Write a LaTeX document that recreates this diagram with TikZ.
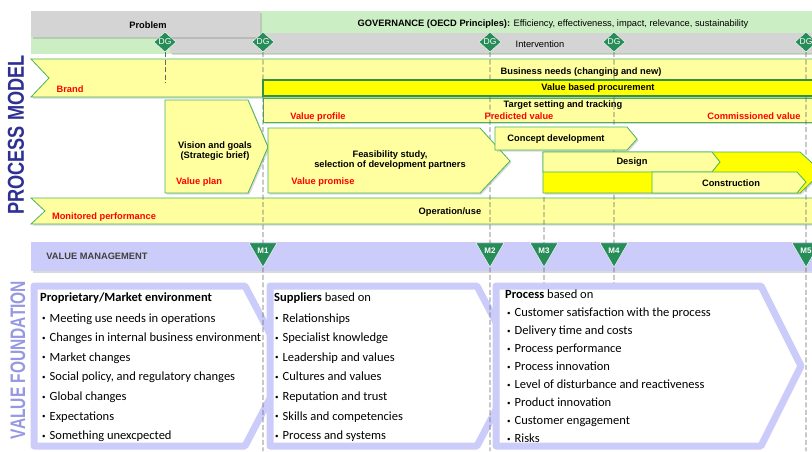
\documentclass[tikz,border=0pt]{standalone}
\usepackage{fontspec}
\setmainfont{Carlito}
\newfontfamily\labelfont{Liberation Sans}
\usetikzlibrary{shapes.geometric,shadows}

\definecolor{govgreen}{RGB}{204,238,196}
\definecolor{bandgray}{RGB}{212,212,212}
\definecolor{paleyellow}{RGB}{255,255,160}
\definecolor{brightyellow}{RGB}{255,255,0}
\definecolor{edgegreen}{RGB}{70,180,90}
\definecolor{markgreen}{RGB}{38,140,88}
\definecolor{lavender}{RGB}{204,204,250}
\definecolor{modelblue}{RGB}{46,49,146}
\definecolor{foundblue}{RGB}{150,152,226}

\newcommand{\vfbullet}{\raisebox{1.3pt}{\scriptsize\textbullet}\hspace{4pt}}

\tikzset{
  modelband/.style={fill=paleyellow, draw=edgegreen, line width=0.8pt},
  hotband/.style={fill=brightyellow, draw=edgegreen, line width=0.8pt},
  softshadow/.style={drop shadow={shadow xshift=1.5pt, shadow yshift=-1.5pt, opacity=0.3}},
  dg/.style={diamond, fill=markgreen, draw=white, line width=0.4pt, minimum width=22pt, minimum height=20pt, inner sep=0pt, text=white, font=\labelfont\fontsize{8.5}{9}\selectfont},
  vm/.style={regular polygon, regular polygon sides=3, shape border rotate=180, fill=markgreen, draw=white, line width=0.4pt, minimum size=32pt, inner sep=0pt, text=white, font=\labelfont\bfseries\fontsize{8}{9}\selectfont},
  gateline/.style={draw=black!60, line width=0.7pt, dash pattern=on 5pt off 2.5pt},
  lbl/.style={font=\labelfont\bfseries\fontsize{9.3}{10.5}\selectfont, inner sep=0pt},
  redlbl/.style={lbl, text=red},
  vfframe/.style={draw=lavender, fill=white, line width=7pt, line join=round},
  vfitem/.style={anchor=base west, inner sep=0pt, font=\fontsize{12.5}{14}\selectfont},
}

\begin{document}
\begin{tikzpicture}[x=1pt, y=-1pt]
  \useasboundingbox (0,0) rectangle (812,451);
  \clip (0,0) rectangle (812,451);

  \fill[govgreen] (31,11) rectangle (812,54);
  \path[fill=bandgray, softshadow] (170,33) rectangle (830,53);
  \path[fill=bandgray, softshadow] (31,11) rectangle (260,37);
  \node[lbl] (problem) at (148,25) {Problem};
  \node[font=\labelfont\fontsize{9.3}{10.5}\selectfont, inner sep=0pt] (governance) at (553,24) {\textbf{GOVERNANCE (OECD Principles):} Efficiency, effectiveness, impact, relevance, sustainability};
  \node[font=\labelfont\fontsize{9.3}{10.5}\selectfont, inner sep=0pt] (intervention) at (540,44) {Intervention};

  \path[modelband, softshadow] (31,59) -- (830,59) -- (830,97) -- (31,97) -- (49,78) -- cycle;
  \path[modelband, softshadow] (263,98) rectangle (830,122);
  \path[modelband, softshadow] (31,198) -- (830,198) -- (830,224) -- (31,224) -- (45,211) -- cycle;
  \node[lbl] (needs) at (581,72) {Business needs (changing and new)};
  \node[redlbl] (brand) at (70,89) {Brand};
  \node[lbl] (target) at (563,105) {Target setting and tracking};
  \node[redlbl] (profile) at (318,117) {Value profile};
  \node[redlbl] (predicted) at (519,116) {Predicted value};
  \node[redlbl] (commissioned) at (754,116) {Commissioned value};
  \node[lbl] (operation) at (450,212) {Operation/use};
  \node[redlbl] (monitored) at (104,217) {Monitored performance};

  \path[fill=lavender, softshadow] (31,242) rectangle (830,271);
  \node[lbl, text=black!75] (vmlabel) at (97,256) {VALUE MANAGEMENT};

  \path[vfframe, softshadow] (34,286) -- (245,286) -- (287,366) -- (245,446) -- (34,446) -- cycle;
  \path[vfframe, softshadow] (270,286) -- (477,286) -- (519,366) -- (477,446) -- (270,446) -- cycle;
  \path[vfframe, softshadow] (496,286) -- (761,286) -- (801,366) -- (761,446) -- (496,446) -- cycle;

  \node[dg] (dg1) at (165,42) {DG};
  \node[dg] (dg2) at (263,42) {DG};
  \node[dg] (dg3) at (490,42) {DG};
  \node[dg] (dg4) at (614,42) {DG};
  \node[dg] (dg5) at (806,42) {DG};
  \node[vm] (m1) at (263,251) {M1};
  \node[vm] (m2) at (490,251) {M2};
  \node[vm] (m3) at (544,251) {M3};
  \node[vm] (m4) at (614,251) {M4};
  \node[vm] (m5) at (806,251) {M5};

  \coordinate (dg1end) at (165,83);
  \coordinate (m1end) at (263,451);
  \coordinate (m2end) at (490,451);
  \coordinate (m3top) at (544,197);
  \coordinate (m3end) at (544,283);
  \coordinate (m4end) at (614,283);
  \coordinate (m5end) at (806,451);

  \draw[gateline] (dg1) -- (dg1end);
  \draw[gateline] (dg2) -- (m1) -- (m1end);
  \draw[gateline] (dg3) -- (m2) -- (m2end);
  \draw[gateline] (m3top) -- (m3) -- (m3end);
  \draw[gateline] (dg4) -- (m4) -- (m4end);
  \draw[gateline] (dg5) -- (m5) -- (m5end);

  \path[hotband, draw=edgegreen!80!black, line width=1.2pt] (263,80) rectangle (830,96);
  \node[lbl] (procurement) at (598,88) {Value based procurement};

  \path[modelband, softshadow] (165,100) -- (248,100) -- (268,147) -- (248,193) -- (165,193) -- cycle;
  \node[lbl, align=center] (vision) at (215,151) {Vision and goals\\(Strategic brief)};
  \node[redlbl] (plan) at (199,182) {Value plan};

  \path[modelband, softshadow] (268,128) -- (480,128) -- (510,161) -- (480,193) -- (268,193) -- cycle;
  \node[lbl, align=center] (feasibility) at (390,160) {Feasibility study,\\selection of development partners};
  \node[redlbl] (promise) at (323,182) {Value promise};

  \path[modelband, softshadow] (495,127) -- (627,127) -- (637,139) -- (627,150) -- (495,150) -- cycle;
  \node[lbl] (concept) at (556,139) {Concept development};

  \path[hotband, softshadow] (543,152) -- (800,152) -- (822,172) -- (800,193) -- (543,193) -- cycle;
  \path[modelband] (543,152) -- (712,152) -- (720,162) -- (712,172) -- (543,172) -- cycle;
  \node[lbl] (design) at (632,162) {Design};
  \path[modelband] (652,172) -- (797,172) -- (806,182) -- (797,193) -- (652,193) -- cycle;
  \node[lbl] (construction) at (731,183) {Construction};

  \node[rotate=90, text=modelblue, font=\labelfont\bfseries\fontsize{23}{23}\selectfont, inner sep=0pt] (processmodel) at (16,135) {\scalebox{0.79}[1]{PROCESS MODEL}};
  \node[rotate=90, text=foundblue, font=\labelfont\bfseries\fontsize{21}{21}\selectfont, inner sep=0pt] (valuefoundation) at (18,360) {\scalebox{0.74}[1]{VALUE FOUNDATION}};

  \node[vfitem, font=\bfseries\fontsize{12.5}{14}\selectfont] (envhead) at (40,301.5) {Proprietary/Market environment};
  \foreach \txt [count=\i] in {Meeting use needs in operations, Changes in internal business environment, Market changes, {Social policy, and regulatory changes}, Global changes, Expectations, Something unexcpected}
    \node[vfitem] (env\i) at (42,{322+19.6*(\i-1)}) {\vfbullet\txt};

  \node[vfitem] (supphead) at (274,301.5) {\textbf{Suppliers} based on};
  \foreach \txt [count=\i] in {Relationships, Specialist knowledge, Leadership and values, Cultures and values, Reputation and trust, Skills and competencies, Process and systems}
    \node[vfitem] (supp\i) at (275,{322+19.6*(\i-1)}) {\vfbullet\txt};

  \node[vfitem] (prochead) at (505,298.5) {\textbf{Process} based on};
  \foreach \txt [count=\i] in {Customer satisfaction with the process, Delivery time and costs, Process performance, Process innovation, Level of disturbance and reactiveness, Product innovation, Customer engagement, Risks}
    \node[vfitem] (proc\i) at (507,{316.5+18*(\i-1)}) {\vfbullet\txt};
\end{tikzpicture}
\end{document}
